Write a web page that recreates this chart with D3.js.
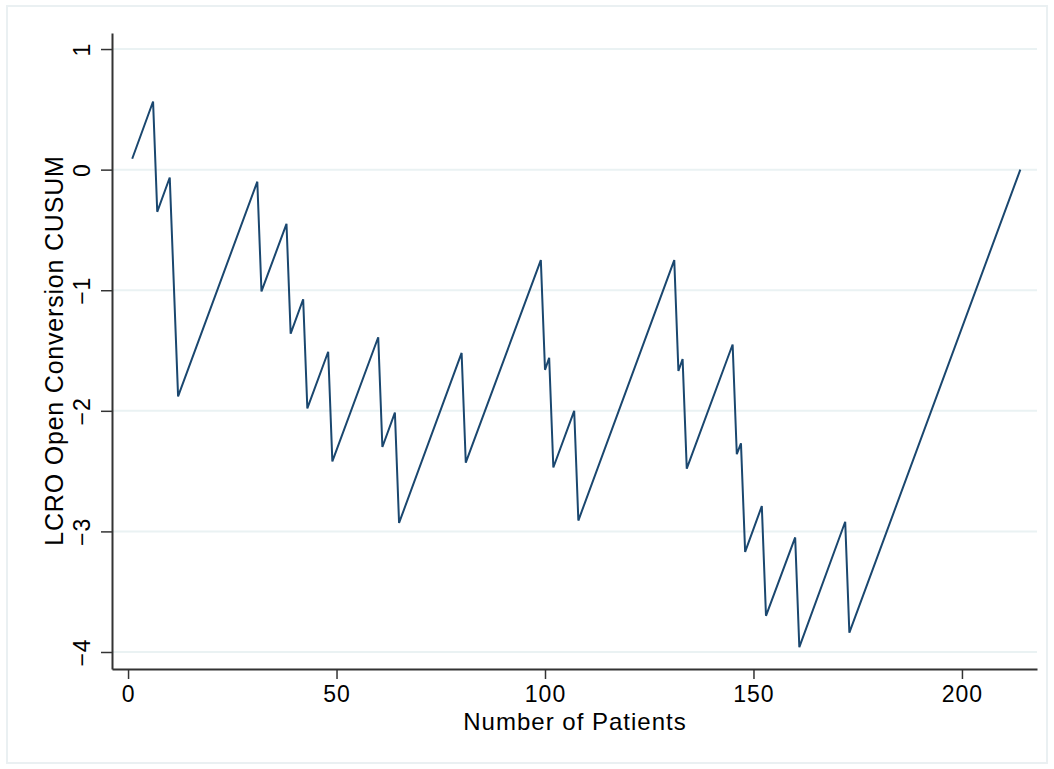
<!DOCTYPE html>
<html lang="en">

<head>
  <meta charset="utf-8">
  <title>LCRO Open Conversion CUSUM</title>
  <script src="https://d3js.org/d3.v7.min.js"></script>
  <style>
    body { margin: 0; background: #fff; }
    #chart text { font-family: "Liberation Sans", Arial, Helvetica, sans-serif; fill: #000; }
  </style>
</head>

<body>
  <div id="chart"></div>

  <script type="text/javascript">
    "use strict"

    // vertices of the CUSUM curve
    var patients = [1, 6, 7, 10, 12, 31, 32, 38, 39, 42, 43, 48, 49, 60, 61, 64, 65, 80, 81,
                    99, 100, 101, 102, 107, 108, 131, 132, 133, 134, 145, 146, 147, 148,
                    152, 153, 160, 161, 172, 173, 214];
    var cusum = [0.09, 0.565, -0.35, -0.065, -1.88, -0.10, -1.01, -0.45, -1.36, -1.075, -1.98, -1.51, -2.42,
                 -1.39, -2.30, -2.015, -2.93, -1.52, -2.43,
                 -0.75, -1.66, -1.56, -2.47, -2.00, -2.91, -0.75, -1.67, -1.57, -2.48,
                 -1.45, -2.36, -2.27, -3.17, -2.79, -3.70, -3.05, -3.96, -2.92, -3.84, 0.0];
    var xTicks = [0, 50, 100, 150, 200];
    var yTicks = [-4, -3, -2, -1, 0, 1];
    var xTitle = "Number of Patients";
    var yTitle = "LCRO Open Conversion CUSUM";

    var width = 1054, height = 769;
    var margin = { top: 33, right: 17, bottom: 100, left: 112 };

    var svg = d3.select('#chart')
                .append('svg')
                  .attr('width', width)
                  .attr('height', height);

    // light outer frame
    svg.append('rect')
        .attr('x', 7).attr('y', 6)
        .attr('width', 1040).attr('height', 757)
        .attr('fill', 'none')
        .attr('stroke', '#eaf0f2')
        .attr('stroke-width', 2);

    var x = d3.scaleLinear()
              .domain([-3.85, 218])
              .range([margin.left, width - margin.right]);

    var y = d3.scaleLinear()
              .domain([-4.141, 1.133])
              .range([height - margin.bottom, margin.top]);

    // gridlines
    svg.append('g')
        .selectAll('line')
        .data(yTicks)
        .enter()
          .append('line')
            .attr('x1', margin.left)
            .attr('x2', width - margin.right)
            .attr('y1', d => y(d))
            .attr('y2', d => y(d))
            .attr('stroke', '#eaf2f3')
            .attr('stroke-width', 2);

    // x axis
    var xAxis = svg.append('g')
        .attr('transform', 'translate(0,' + (height - margin.bottom) + ')')
        .call(d3.axisBottom(x).tickValues(xTicks).tickSize(10).tickPadding(7).tickSizeOuter(0));
    xAxis.select('.domain').attr('stroke', '#333').attr('stroke-width', 2);
    xAxis.selectAll('.tick line').attr('stroke', '#333').attr('stroke-width', 1.5);
    xAxis.selectAll('.tick text')
        .attr('font-size', 23)
        .attr('letter-spacing', 1)
        .attr('dy', null)
        .attr('y', 33);

    // y axis
    var yAxis = svg.append('g')
        .attr('transform', 'translate(' + margin.left + ',0)')
        .call(d3.axisLeft(y).tickValues(yTicks).tickSize(11).tickSizeOuter(0)
                .tickFormat(d => d < 0 ? '\u2212' + Math.abs(d) : String(d)));
    yAxis.select('.domain').attr('stroke', '#333').attr('stroke-width', 2);
    yAxis.selectAll('.tick line').attr('stroke', '#333').attr('stroke-width', 1.5);
    yAxis.selectAll('.tick text')
        .attr('font-size', 23)
        .attr('letter-spacing', 1)
        .attr('x', null)
        .attr('dy', null)
        .attr('text-anchor', 'middle')
        .attr('transform', 'translate(-22,0) rotate(-90)');

    // the CUSUM line
    var pts = patients.map((p, i) => [p, cusum[i]]);
    var line = d3.line()
                 .x(d => x(d[0]))
                 .y(d => y(d[1]));
    svg.append('path')
        .datum(pts)
        .attr('d', line)
        .attr('fill', 'none')
        .attr('stroke', '#1a476f')
        .attr('stroke-width', 2)
        .attr('stroke-linejoin', 'miter');

    // axis titles
    svg.append('text')
        .attr('x', (x(0) + x(200)) / 2 + 30)
        .attr('y', 730)
        .attr('text-anchor', 'middle')
        .attr('font-size', 24)
        .attr('letter-spacing', 1)
        .text(xTitle);

    svg.append('text')
        .attr('transform', 'translate(63,' + ((y(-4) + y(1)) / 2) + ') rotate(-90)')
        .attr('text-anchor', 'middle')
        .attr('font-size', 25)
        .attr('letter-spacing', 0.8)
        .text(yTitle);
  </script>
</body>

</html>
